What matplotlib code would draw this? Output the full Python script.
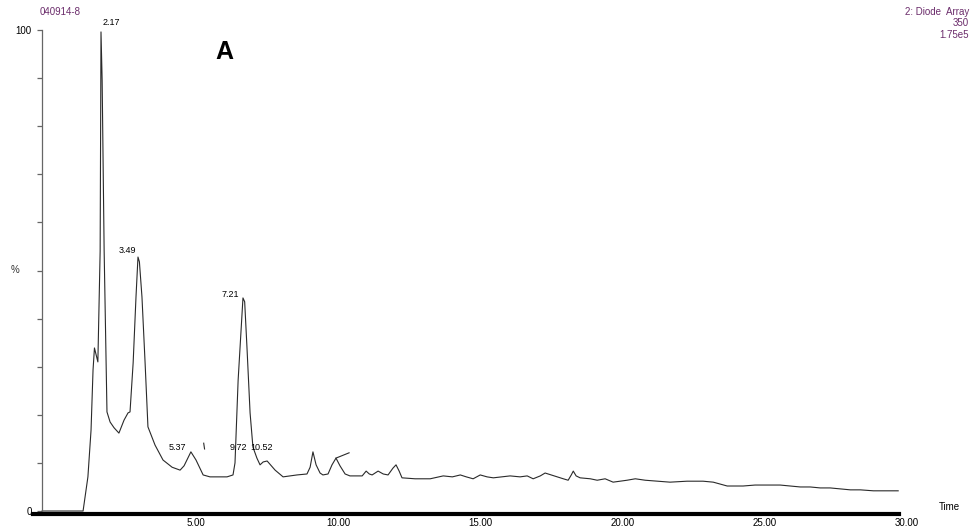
import matplotlib.pyplot as plt
import numpy as np

plt.rcParams['font.family'] = ['Liberation Sans', 'DejaVu Sans']

# chromatogram trace, time (min) vs intensity (%)
time = [-0.40, 0.93, 1.04, 1.21, 1.32, 1.39, 1.44, 1.56, 1.64, 1.67, 1.71, 1.78,
        1.88, 1.99, 2.13, 2.30, 2.48, 2.62, 2.69, 2.80, 2.90, 2.97, 3.02, 3.11,
        3.22, 3.32, 3.57, 3.85, 4.17, 4.45, 4.59, 4.83, 5.01, 5.26, 5.50, 5.75,
        6.10, 6.31, 6.38, 6.49, 6.63, 6.66, 6.72, 6.80, 6.91, 7.01, 7.15, 7.26,
        7.37, 7.51, 7.79, 8.07, 8.31, 8.56, 8.91, 9.02, 9.12, 9.23, 9.37, 9.47,
        9.65, 9.79, 9.93, 10.07, 10.25, 10.42, 10.85, 10.99, 11.10, 11.20, 11.41,
        11.59, 11.76, 11.93, 12.04, 12.15, 12.25, 12.71, 13.24, 13.70, 14.02,
        14.30, 14.51, 14.75, 15.00, 15.24, 15.46, 15.77, 16.05, 16.40, 16.65,
        16.86, 17.11, 17.28, 17.49, 17.71, 17.92, 18.09, 18.20, 18.27, 18.37,
        18.51, 18.87, 19.11, 19.39, 19.67, 19.92, 20.16, 20.45, 20.80, 21.22,
        21.67, 22.27, 22.83, 23.19, 23.43, 23.68, 24.24, 24.66, 24.95, 25.54,
        25.90, 26.25, 26.60, 26.95, 27.30, 27.66, 28.01, 28.36, 28.82, 29.24, 29.69]
intensity = [0, 0, 0, 7.1, 16.8, 29.3, 33.9, 31.0, 54.0, 99.6, 89.6, 54.3,
             20.6, 18.5, 17.3, 16.2, 18.9, 20.4, 20.6, 30.8, 44.5, 52.8, 51.8, 44.5,
             30.8, 17.5, 13.7, 10.6, 9.1, 8.5, 9.4, 12.3, 10.6, 7.5, 7.1, 7.1,
             7.1, 7.5, 10.0, 27.2, 41.2, 44.3, 43.5, 34.1, 20.4, 13.3, 11.0, 9.6,
             10.2, 10.4, 8.5, 7.1, 7.3, 7.5, 7.7, 9.1, 12.3, 9.6, 7.9, 7.5,
             7.7, 9.6, 11.0, 9.4, 7.7, 7.3, 7.3, 8.3, 7.7, 7.5, 8.3,
             7.7, 7.5, 8.9, 9.6, 8.3, 6.9, 6.7, 6.7, 7.3, 7.1,
             7.5, 7.1, 6.7, 7.5, 7.1, 6.9, 7.1, 7.3, 7.1, 7.3,
             6.7, 7.3, 7.9, 7.5, 7.1, 6.7, 6.4, 7.5, 8.3, 7.3,
             6.9, 6.7, 6.4, 6.7, 6.0, 6.2, 6.4, 6.7, 6.4, 6.2,
             6.0, 6.2, 6.2, 6.0, 5.6, 5.2, 5.2, 5.4, 5.4, 5.4,
             5.2, 5.0, 5.0, 4.8, 4.8, 4.6, 4.4, 4.4, 4.2, 4.2, 4.2]

# integration marks drawn by the software
tangent_t = [9.93, 10.39]
tangent_y = [11.0, 12.1]
stroke_t = [5.28, 5.31]
stroke_y = [14.1, 12.9]

# peak labels: text, time, intensity
peak_labels = ['2.17', '3.49', '7.21', '5.37', '9.72', '10.52']
peak_t = [2.02, 2.59, 6.22, 4.36, 6.49, 7.31]
peak_y = [101.5, 54.1, 45.1, 13.3, 13.3, 13.3]

xticks = [5, 10, 15, 20, 25, 30]
yticks = [0, 10, 20, 30, 40, 50, 60, 70, 80, 90, 100]

purple = '#6b2c6b'

fig = plt.figure(figsize=(9.77, 5.31), dpi=100)
ax = fig.add_axes([33 / 977, 17 / 531, 874 / 977, 494 / 531])

ax.plot(time, intensity, color='#2a2a2a', lw=0.8)
ax.plot(tangent_t, tangent_y, color='#2a2a2a', lw=0.8)
ax.plot(stroke_t, stroke_y, color='#2a2a2a', lw=0.8)

for lab, t, y in zip(peak_labels, peak_t, peak_y):
    ax.text(t, y, lab, fontsize=6.5, ha='center', va='center', clip_on=False)

ax.text(6.0, 95.4, 'A', fontsize=18, fontweight='bold', ha='center', va='center')

ax.set_xlim(-0.72, 30.0)
ax.set_ylim(-0.62, 102.08)

ax.set_xticks(xticks)
ax.set_xticklabels(['%.2f' % v for v in xticks], fontsize=7)
ax.tick_params(axis='x', length=0, pad=3)

ax.set_yticks(yticks)
ax.set_yticklabels(['0'] + [''] * 9 + ['100'], fontsize=7)
ax.tick_params(axis='y', length=3.6, width=0.9, color='#666666', pad=4, labelsize=7)
yt = ax.yaxis.get_major_ticks()
yt[5].tick1line.set_markersize(7)
yt[10].tick1line.set_markersize(9)
yt[10].tick1line.set_markeredgewidth(3)
yt[10].tick1line.set_color('black')

for s in ['top', 'right']:
    ax.spines[s].set_visible(False)
ax.spines['bottom'].set_linewidth(3)
ax.spines['bottom'].set_bounds(-0.72, 29.72)
ax.spines['left'].set_position(('data', -0.40))
ax.spines['left'].set_bounds(0, 100)
ax.spines['left'].set_color('#666666')
ax.spines['left'].set_linewidth(0.9)

fig.text(15 / 977, 1 - 270 / 531, '%', fontsize=7, ha='center', va='center', color='#333333')
fig.text(949 / 977, 1 - 507 / 531, 'Time', fontsize=7, ha='center', va='center')
fig.text(60 / 977, 1 - 12 / 531, '040914-8', fontsize=7, ha='center', va='center', color=purple)
fig.text(969 / 977, 1 - 12 / 531, '2: Diode  Array', fontsize=7, ha='right', va='center', color=purple)
fig.text(969 / 977, 1 - 23 / 531, '350', fontsize=7, ha='right', va='center', color=purple)
fig.text(969 / 977, 1 - 35 / 531, '1.75e5', fontsize=7, ha='right', va='center', color=purple)

fig.savefig('out.png', dpi=100)
